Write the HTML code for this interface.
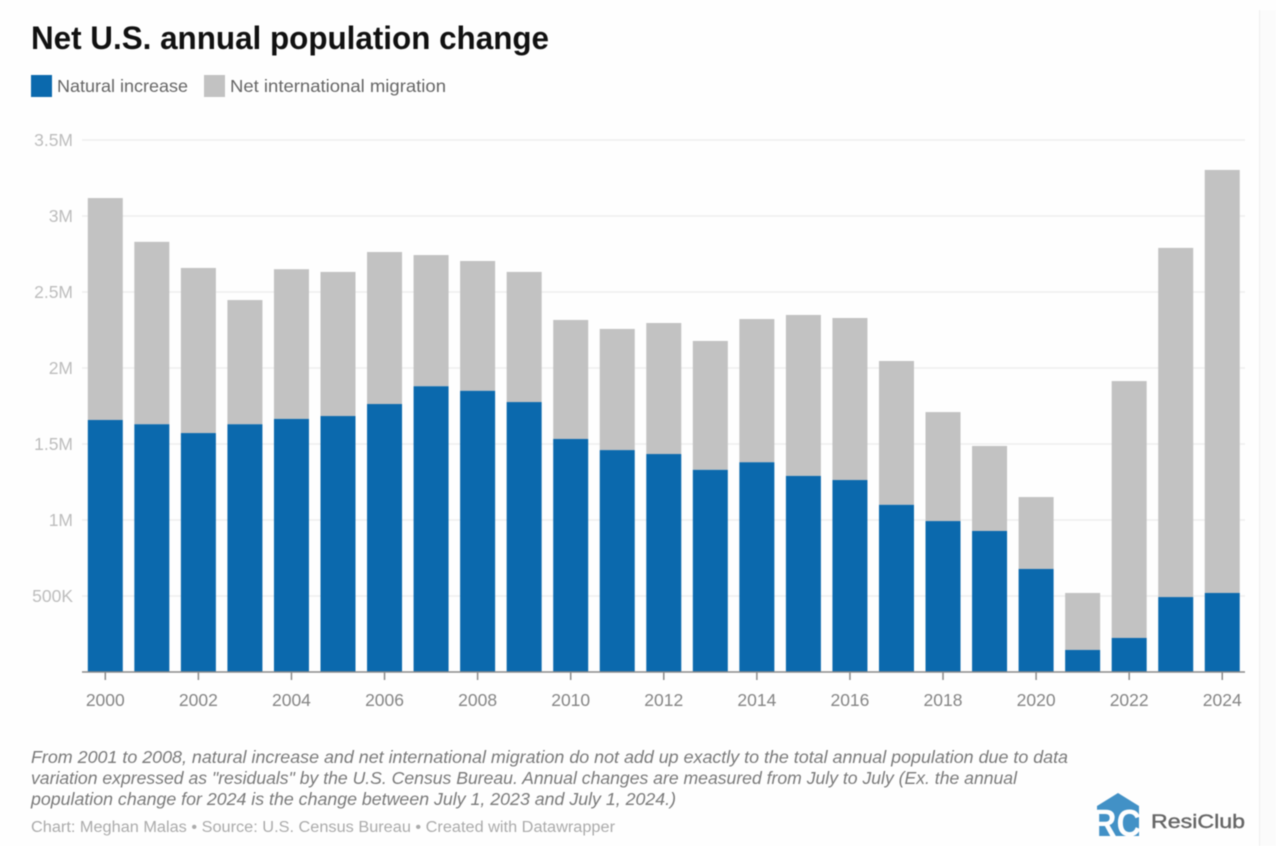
<!DOCTYPE html>
<html lang="en">
<head>
<meta charset="utf-8">
<title>Net U.S. annual population change</title>
<style>
html,body{margin:0;padding:0;background:#fefefe;width:1276px;height:846px;overflow:hidden}
svg{display:block;font-family:"Liberation Sans",sans-serif;filter:blur(0.6px)}
</style>
</head>
<body>
<svg id="chart" width="1276" height="846" viewBox="0 0 1276 846" xmlns="http://www.w3.org/2000/svg">
  <rect x="0" y="0" width="1276" height="846" fill="#fefefe"/>
  <rect x="1259" y="10" width="17" height="836" fill="#fbfbfb"/>
  <line x1="1259.5" y1="10" x2="1259.5" y2="846" stroke="#eeeeee"/>
  <text x="31" y="49" font-size="32" font-weight="700" fill="#111" textLength="518" lengthAdjust="spacingAndGlyphs">Net U.S. annual population change</text>
  <g>
    <rect x="31" y="75" width="21" height="22" fill="#0b69ad"/>
    <text x="57" y="92" font-size="17.5" fill="#666" textLength="131" lengthAdjust="spacingAndGlyphs">Natural increase</text>
    <rect x="204" y="75" width="21" height="22" fill="#c2c2c2"/>
    <text x="230" y="92" font-size="17.5" fill="#666" textLength="216" lengthAdjust="spacingAndGlyphs">Net international migration</text>
  </g>
  <g id="grid"></g>
  <g id="yLabels"></g>
  <g id="bars"></g>
  <line x1="82" y1="672" x2="1245" y2="672" stroke="#8a8a8a" stroke-width="1.5"/>
  <g id="xTicks"></g>
  <g font-size="17.5" font-style="italic" fill="#7a7a7a">
    <text x="31" y="763" textLength="1037" lengthAdjust="spacingAndGlyphs">From 2001 to 2008, natural increase and net international migration do not add up exactly to the total annual population due to data</text>
    <text x="31" y="784" textLength="986" lengthAdjust="spacingAndGlyphs">variation expressed as "residuals" by the U.S. Census Bureau. Annual changes are measured from July to July (Ex. the annual</text>
    <text x="31" y="805" textLength="645" lengthAdjust="spacingAndGlyphs">population change for 2024 is the change between July 1, 2023 and July 1, 2024.)</text>
  </g>
  <text x="31" y="832" font-size="15.5" fill="#ababab" textLength="584" lengthAdjust="spacingAndGlyphs">Chart: Meghan Malas • Source: U.S. Census Bureau • Created with Datawrapper</text>
  <g>
    <polygon points="1118,793 1139,806 1139,836 1097,836 1097,806" fill="#4291c6"/>
    <text x="1092" y="836" font-size="38" font-weight="700" fill="#fefefe" textLength="49" lengthAdjust="spacingAndGlyphs">RC</text>
    <text x="1151" y="828" font-size="19.5" font-weight="400" fill="#666" stroke="#666" stroke-width="0.4" textLength="94" lengthAdjust="spacingAndGlyphs">ResiClub</text>
  </g>
</svg>
<script>
const years = [2000,2001,2002,2003,2004,2005,2006,2007,2008,2009,2010,2011,2012,2013,2014,2015,2016,2017,2018,2019,2020,2021,2022,2023,2024];
const naturalIncrease = [1.658,1.63,1.572,1.63,1.665,1.684,1.763,1.88,1.85,1.776,1.533,1.46,1.434,1.33,1.38,1.29,1.263,1.10,0.993,0.928,0.678,0.145,0.224,0.493,0.52];
const netMigration = [1.46,1.20,1.086,0.817,0.985,0.948,1.0,0.863,0.854,0.856,0.783,0.797,0.862,0.848,0.942,1.059,1.066,0.946,0.717,0.559,0.473,0.375,1.69,2.297,2.783];
const yTickValues = [0.5,1,1.5,2,2.5,3,3.5];
const yTickLabels = ["500K","1M","1.5M","2M","2.5M","3M","3.5M"];
const xTickLabels = ["2000","2002","2004","2006","2008","2010","2012","2014","2016","2018","2020","2022","2024"];

const NS = "http://www.w3.org/2000/svg";
const yScale = function (v) { return 672 - v * 152; };
const xScale = function (year) { return 105.3 + (year - 2000) * 46.54; };
const BAR_WIDTH = 35;

function make(tag, attrs, parent) {
  const el = document.createElementNS(NS, tag);
  Object.keys(attrs).forEach(function (k) { el.setAttribute(k, attrs[k]); });
  parent.appendChild(el);
  return el;
}

const gridGroup = document.getElementById("grid");
const yLabelGroup = document.getElementById("yLabels");
yTickValues.forEach(function (v, i) {
  const y = yScale(v);
  const line = make("line", {x1: 82, x2: 1245, y1: y, y2: y, stroke: "#eeeeee", "stroke-width": 1.5}, gridGroup);
  
  
  const label = make("text", {x: 73, y: y + 6, "text-anchor": "end", "font-size": 17.5, fill: "#bdbdbd"}, yLabelGroup);
  
  
  label.textContent = yTickLabels[i];
});

const barGroup = document.getElementById("bars");
years.forEach(function (year, i) {
  const left = xScale(year) - BAR_WIDTH / 2;
  const nat = naturalIncrease[i];
  const mig = netMigration[i];
  const migBar = make("rect", {x: left, y: yScale(nat + mig), width: BAR_WIDTH, height: yScale(nat) - yScale(nat + mig), fill: "#c2c2c2"}, barGroup);
  
  
  const natBar = make("rect", {x: left, y: yScale(nat), width: BAR_WIDTH, height: yScale(0) - yScale(nat), fill: "#0b69ad"}, barGroup);
  
  
});

const xTickGroup = document.getElementById("xTicks");
xTickLabels.forEach(function (labelText) {
  const x = xScale(Number(labelText));
  const tick = make("line", {x1: x, x2: x, y1: 672, y2: 680, stroke: "#8a8a8a", "stroke-width": 1.5}, xTickGroup);
  
  
  const label = make("text", {x: x, y: 706, "text-anchor": "middle", "font-size": 17.5, fill: "#858585"}, xTickGroup);
  
  
  label.textContent = labelText;
});
</script>
</body>
</html>
